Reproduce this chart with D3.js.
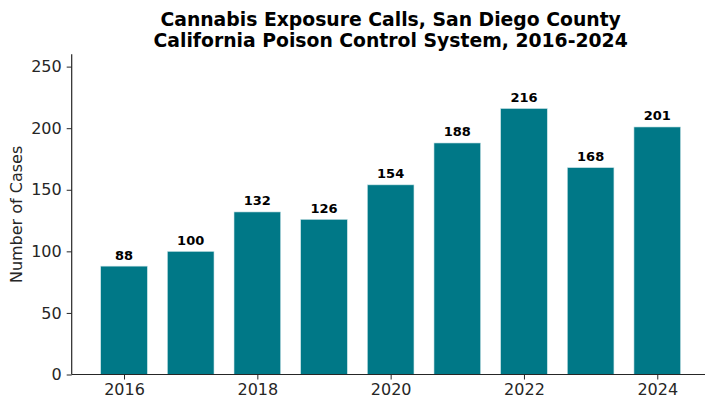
<html>
<head>
  <title>cannabis exposure calls</title>
  <script src="https://cdn.jsdelivr.net/npm/d3@7"></script>
  <style>
    body {
      margin: 0;
      background: #fff;
      font-family: 'DejaVu Sans', sans-serif;
    }
  </style>
</head>
<body>
  <div id="chart"></div>
<script>
  // data
  const years = [2016, 2017, 2018, 2019, 2020, 2021, 2022, 2023, 2024]
  const cases = [88, 100, 132, 126, 154, 188, 216, 168, 201]
  const xTicks = [2016, 2018, 2020, 2022, 2024]
  const yTicks = [0, 50, 100, 150, 200, 250]

  const width = 705
  const height = 402
  const mLeft = 71.7
  const mRight = 709.6
  const mTop = 54.3
  const mBottom = 374.5
  const barW = 0.7

  const svg = d3.select("#chart").append("svg")
    .attr("width", width)
    .attr("height", height)

  //スケール
  let x = d3.scaleLinear().domain([2015.215, 2024.785]).range([mLeft, mRight])
  let y = d3.scaleLinear().domain([0, 260]).range([mBottom, mTop])

  //棒
  svg.append("g").selectAll("rect").data(years).join("rect")
    .attr("x", (d) => x(d - barW / 2))
    .attr("y", (d, i) => y(cases[i]))
    .attr("width", (d) => x(d + barW / 2) - x(d - barW / 2))
    .attr("height", (d, i) => y(0) - y(cases[i]))
    .attr("fill", "#007887")
    .attr("stroke", "#cfe6ea")
    .attr("stroke-width", 0.6)

  //数値ラベル
  svg.append("g").selectAll("text").data(years).join("text")
    .attr("x", (d) => x(d))
    .attr("y", (d, i) => y(cases[i]) - 6.5)
    .attr("text-anchor", "middle")
    .attr("font-size", "13px")
    .attr("font-weight", "bold")
    .attr("fill", "#000")
    .text((d, i) => cases[i])

  //軸
  const xAxis = svg.append("g")
    .attr("transform", `translate(0,${mBottom})`)
    .call(d3.axisBottom(x).tickValues(xTicks).tickFormat(d3.format("d")).tickSizeOuter(0).tickSize(5).tickPadding(4.5))
  const yAxis = svg.append("g")
    .attr("transform", `translate(${mLeft},0)`)
    .call(d3.axisLeft(y).tickValues(yTicks).tickSizeOuter(0).tickSize(5).tickPadding(5))

  for (const ax of [xAxis, yAxis]) {
    ax.selectAll("text").attr("font-size", "16px").attr("fill", "#262626")
      .attr("font-family", "'DejaVu Sans', sans-serif")
    ax.selectAll("line").attr("stroke", "#262626").attr("stroke-width", 1)
    ax.select(".domain").attr("stroke", "#262626").attr("stroke-width", 1.2)
  }
  yAxis.select(".domain").attr("d", `M0,${mBottom}V${mTop}`)
  xAxis.select(".domain").attr("d", `M${mLeft},0H${mRight}`)

  //y軸ラベル
  svg.append("text")
    .attr("transform", `translate(22,${(mTop + mBottom) / 2}) rotate(-90)`)
    .attr("text-anchor", "middle")
    .attr("font-size", "16px")
    .attr("fill", "#262626")
    .text("Number of Cases")

  //タイトル
  const cx = (mLeft + mRight) / 2
  const title = svg.append("text")
    .attr("text-anchor", "middle")
    .attr("font-size", "18.8px")
    .attr("font-weight", "bold")
    .attr("fill", "#000")
  title.append("tspan").attr("x", cx).attr("y", 25.5).text("Cannabis Exposure Calls, San Diego County")
  title.append("tspan").attr("x", cx).attr("y", 46.5).text("California Poison Control System, 2016-2024")
</script>
</body>
</html>
